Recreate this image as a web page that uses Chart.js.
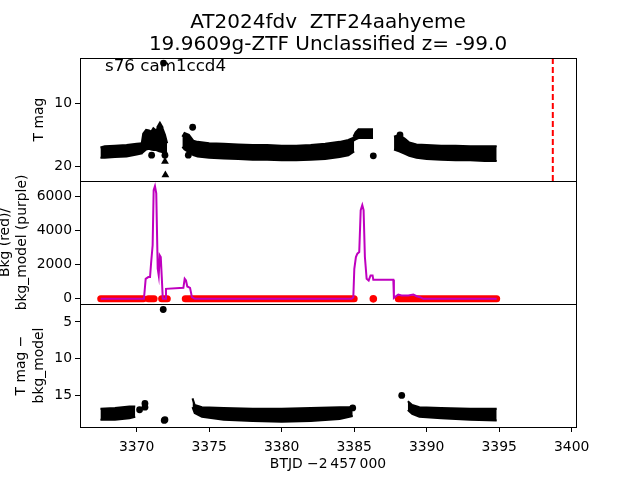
<!DOCTYPE html>
<html>
<head>
<meta charset="utf-8">
<script src="https://cdn.jsdelivr.net/npm/chart.js@4.4.1/dist/chart.umd.min.js"></script>
<style>
  html, body { margin: 0; padding: 0; background: #fff; }
  canvas { display: block; }
</style>
</head>
<body>
<canvas id="c" width="640" height="480"></canvas>
<script>
// ---------- data ----------
const titleLines = ['AT2024fdv  ZTF24aahyeme', '19.9609g-ZTF Unclassified z= -99.0'];
const sectorLabel = 's76 cam1ccd4';
const xTicks = [3370, 3375, 3380, 3385, 3390, 3395, 3400];
const tmagTicks = [10, 20];
const bkgTicks = [0, 2000, 4000, 6000];
const diffTicks = [5, 10, 15];
const xRange = [3366.09, 3400.3];
const tmagRange = [2.9, 22.26];
const bkgRange = [-300, 6880];
const diffRange = [2.55, 19.3];

// Panel 1: T mag, dense point bands as [BTJD, bright edge, faint edge]
const tmagBandA = [[3367.5,17.0,18.6],[3367.8,16.8,18.6],[3368.5,16.7,18.5],[3369.3,16.6,18.4],[3370.0,16.4,18.1],[3370.4,16.3,17.9]];
const tmagBump1 = [[3370.35,16.3,17.9],[3370.45,14.8,17.7],[3370.65,14.2,17.3],[3370.85,14.3,17.2],[3371.0,14.5,17.3],[3371.15,13.95,17.4],[3371.35,14.3,17.4],[3371.55,13.5,17.6],[3371.75,13.8,17.7],[3371.95,15.0,17.8],[3372.1,16.3,17.8]];
const tmagBandB = [[3373.15,15.3,16.9],[3373.3,14.7,17.3],[3373.6,15.0,17.7],[3373.9,15.9,18.2],[3374.2,16.1,18.4],[3375,16.3,18.6],[3376,16.4,18.7],[3377,16.5,18.8],[3378,16.6,18.9],[3379,16.6,18.9],[3380,16.7,19.0],[3381,16.7,19.0],[3382,16.6,18.9],[3383,16.4,18.8],[3384,16.1,18.5],[3384.6,15.8,18.2],[3385.0,15.4,17.6]];
const tmagBump2 = [[3384.95,15.3,15.9],[3385.1,14.6,15.7],[3385.3,14.1,15.5],[3386.3,14.1,15.5]];
const tmagBandC = [[3387.75,15.3,17.3],[3388.1,15.0,17.6],[3388.5,15.6,18.0],[3388.8,16.2,18.3],[3389.3,16.5,18.6],[3390,16.6,18.8],[3391,16.7,18.9],[3392,16.7,19.0],[3393,16.8,19.0],[3394,16.8,19.1],[3394.83,16.8,19.1]];
const tmagDots = [[3371.03,18.2],[3371.95,18.2],[3373.56,18.2],[3373.86,13.8],[3371.85,3.7],[3386.32,18.3],[3388.16,15.0]];
const tmagTriangles = [[3371.95,19.2],[3371.98,21.3],[3371.6,13.5]];
const sectorEnd = 3398.7;

// Panel 2: background (red) runs near zero and bkg_model (purple)
const bkgRedRuns = [[3367.52,3370.46],[3370.8,3371.2],[3371.72,3372.11],[3373.35,3385.0],[3388.04,3394.83]];
const bkgRedDots = [3386.32];
const bkgLevel = 0;
const bkgModel = [[3367.52,0],[3370.50,0],[3370.62,1171],[3370.80,1269],[3370.92,1269],[3370.99,2051],[3371.10,3126],[3371.17,6352],[3371.26,6587],[3371.35,6157],[3371.45,1758],[3371.52,1367],[3371.59,2540],[3371.66,2442],[3371.73,1269],[3371.80,0],[3371.96,0],[3372.02,585],[3373.22,643],[3373.31,1171],[3373.40,1073],[3373.49,721],[3373.68,643],[3373.81,96],[3374.02,0],[3384.82,0],[3384.94,96],[3385.01,1758],[3385.12,2442],[3385.22,2637],[3385.35,2735],[3385.45,5179],[3385.56,5472],[3385.65,5179],[3385.74,2442],[3385.86,1171],[3386.00,1073],[3386.13,1367],[3386.27,1367],[3386.32,1112],[3387.70,1112],[3387.74,57],[3388.04,252],[3388.27,194],[3388.73,194],[3389.08,252],[3389.31,154],[3389.54,96],[3389.77,0],[3394.83,0]];

// Panel 3: T mag - bkg_model
const diffBandA = [[3367.5,16.8,18.3],[3368.5,16.7,18.3],[3369.5,16.5,18.1],[3369.9,16.5,17.9]];
const diffBandB = [[3373.85,15.4,16.6],[3374.0,16.3,17.4],[3374.5,16.6,17.9],[3376,16.7,18.3],[3378,16.8,18.5],[3380,16.8,18.6],[3382,16.7,18.5],[3384,16.6,18.2],[3384.9,16.6,17.8]];
const diffBandC = [[3388.7,15.8,17.0],[3389.0,16.3,17.5],[3389.5,16.6,17.9],[3391,16.7,18.1],[3393,16.8,18.3],[3394.83,16.8,18.4]];
const diffDots = [[3370.2,16.95],[3370.57,16.1],[3370.57,16.6],[3371.83,3.3],[3371.95,18.3],[3371.9,18.4],[3384.9,16.7],[3388.28,15.0]];

// ---------- build ----------
const BLACK = '#000000', RED = '#ff0000', MAGENTA = '#bf00bf';
const datasets = [];
function band(rows, axis) {
  datasets.push({data: rows.map(r => ({x: r[0], y: r[1]})), yAxisID: axis, borderColor: BLACK, backgroundColor: BLACK,
    borderWidth: 2, pointRadius: 0, fill: '+1', tension: 0, order: 5});
  datasets.push({data: rows.map(r => ({x: r[0], y: r[2]})), yAxisID: axis, borderColor: BLACK, backgroundColor: BLACK,
    borderWidth: 2, pointRadius: 0, fill: false, tension: 0, order: 5});
}
function dots(rows, axis, color, style, r, order) {
  datasets.push({data: rows.map(p => ({x: p[0], y: p[1]})), yAxisID: axis, showLine: false,
    pointStyle: style, pointRadius: r, pointBackgroundColor: color, pointBorderColor: color, pointBorderWidth: 0, order: order});
}
[tmagBandA, tmagBump1, tmagBandB, tmagBump2, tmagBandC].forEach(b => band(b, 'yT'));
dots(tmagDots, 'yT', BLACK, 'circle', 3.4, 4);
dots(tmagTriangles, 'yT', BLACK, 'triangle', 4.5, 4);
datasets.push({data: [{x: sectorEnd, y: tmagRange[0]}, {x: sectorEnd, y: tmagRange[1]}], yAxisID: 'yT',
  borderColor: RED, borderWidth: 2, borderDash: [6, 3], pointRadius: 0, order: 1});

bkgRedRuns.forEach(run => {
  datasets.push({data: [{x: run[0], y: bkgLevel}, {x: run[1], y: bkgLevel}], yAxisID: 'yB',
    borderColor: RED, borderWidth: 7, borderCapStyle: 'round', pointRadius: 0, order: 6});
});
dots(bkgRedDots.map(t => [t, bkgLevel]), 'yB', RED, 'circle', 3.8, 6);
datasets.push({data: bkgModel.map(p => ({x: p[0], y: p[1]})), yAxisID: 'yB',
  borderColor: MAGENTA, borderWidth: 2, pointRadius: 0, tension: 0, order: 2});

[diffBandA, diffBandB, diffBandC].forEach(b => band(b, 'yD'));
dots(diffDots, 'yD', BLACK, 'circle', 3.4, 4);

Chart.defaults.font.family = "'DejaVu Sans', sans-serif";
Chart.defaults.font.size = 13.9;
Chart.defaults.color = '#000';

function yAxis(opts) {
  return Object.assign({
    type: 'linear', position: 'left', stack: 'panels', stackWeight: 1,
    afterFit: s => { s.width = 80; },
    grid: {drawOnChartArea: false, drawTicks: true, tickLength: 5, color: BLACK},
    border: {display: true, color: BLACK, width: 1},
  }, opts);
}
function fixTicks(list) { return s => { s.ticks = list.map(v => ({value: v})); }; }

const framePlugin = {
  id: 'frames',
  afterDatasetsDraw(chart) {
    const {ctx, chartArea: a, scales} = chart;
    ctx.save();
    ctx.strokeStyle = BLACK; ctx.lineWidth = 1;
    ['yT', 'yB', 'yD'].forEach(id => {
      const s = scales[id];
      const t = Math.round(s.top) + 0.5, b = Math.round(s.bottom) + 0.5;
      ctx.strokeRect(Math.round(a.left) + 0.5, t, Math.round(a.right - a.left), b - t);
    });
    ctx.restore();
  },
  afterDraw(chart) {
    const {ctx, chartArea: a} = chart;
    ctx.save();
    ctx.fillStyle = BLACK;
    ctx.font = "20px 'DejaVu Sans'";
    ctx.textAlign = 'center';
    ctx.textBaseline = 'alphabetic';
    const cx = (a.left + a.right) / 2;
    ctx.fillText(titleLines[0], cx, a.top - 30.5);
    ctx.fillText(titleLines[1], cx, a.top - 8.5);
    ctx.font = "16.7px 'DejaVu Sans'";
    ctx.textAlign = 'left';
    ctx.fillText(sectorLabel, a.left + 25, a.top + 12.5);
    ctx.restore();
  }
};

new Chart(document.getElementById('c'), {
  type: 'line',
  data: {datasets},
  plugins: [framePlugin],
  options: {
    responsive: false, animation: false, events: [],
    layout: {padding: {top: 58, right: 64, left: 0, bottom: 0}},
    plugins: {legend: {display: false}, tooltip: {enabled: false}, title: {display: false}},
    scales: {
      x: {
        type: 'linear', position: 'bottom', min: xRange[0], max: xRange[1],
        afterBuildTicks: fixTicks(xTicks),
        afterFit: s => { s.height = 53; },
        ticks: {autoSkip: false, maxRotation: 0, padding: 7, callback: v => String(v)},
        grid: {drawOnChartArea: false, drawTicks: true, tickLength: 5, color: BLACK},
        border: {display: true, color: BLACK},
        title: {display: true, text: 'BTJD \u22122\u2009457\u2009000', padding: {top: 0, bottom: 7}}
      },
      yT: yAxis({
        weight: 3, reverse: true, min: tmagRange[0], max: tmagRange[1],
        afterBuildTicks: fixTicks(tmagTicks),
        ticks: {autoSkip: false, padding: 3, callback: v => String(v)},
        title: {display: true, text: 'T mag', padding: {top: 31, bottom: 0}}
      }),
      yB: yAxis({
        weight: 2, min: bkgRange[0], max: bkgRange[1],
        afterBuildTicks: fixTicks(bkgTicks),
        ticks: {autoSkip: false, padding: 3, callback: v => String(v)},
        title: {display: true, text: ['Bkg (red)/', 'bkg_model (purple)'], font: {lineHeight: 1.25}, padding: {top: -3.7, bottom: 0}}
      }),
      yD: yAxis({
        weight: 1, reverse: true, min: diffRange[0], max: diffRange[1],
        afterBuildTicks: fixTicks(diffTicks),
        ticks: {autoSkip: false, padding: 3, callback: v => String(v)},
        title: {display: true, text: ['T mag \u2212', 'bkg_model'], font: {lineHeight: 1.25}, padding: {top: 13, bottom: 0}}
      })
    }
  }
});
</script>
</body>
</html>
